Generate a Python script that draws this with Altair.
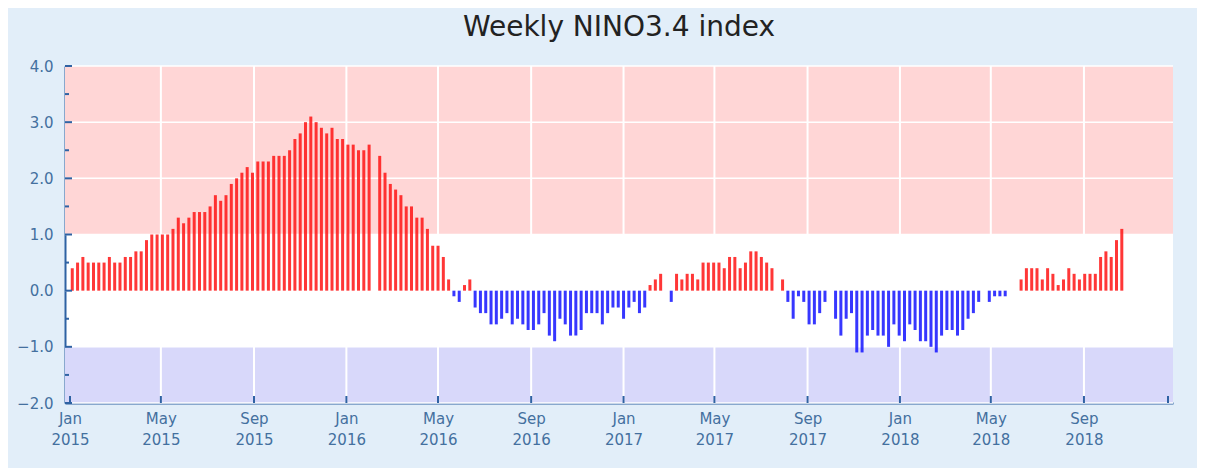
import altair as alt
import pandas as pd

# ---- data ----
start_week = "2015-01-04"
nino34 = [
    0.4, 0.5, 0.6, 0.5, 0.5, 0.5, 0.5, 0.6, 0.5, 0.5, 0.6, 0.6, 0.7, 0.7, 0.9, 1.0,
    1.0, 1.0, 1.0, 1.1, 1.3, 1.2, 1.3, 1.4, 1.4, 1.4, 1.5, 1.7, 1.6, 1.7, 1.9, 2.0,
    2.1, 2.2, 2.1, 2.3, 2.3,
    2.3, 2.4, 2.4, 2.4, 2.5, 2.7, 2.8, 3.0, 3.1, 3.0, 2.9, 2.8, 2.9, 2.7, 2.7, 2.6,
    2.6, 2.5, 2.5, 2.6,
    None,
    2.4, 2.1, 1.9, 1.8, 1.7, 1.5, 1.5, 1.3, 1.3, 1.1, 0.8, 0.8, 0.6, 0.2,
    -0.1, -0.2, 0.1, 0.2, -0.3, -0.4, -0.4, -0.6, -0.6, -0.5, -0.4, -0.6, -0.5, -0.6,
    -0.7, -0.7, -0.6, -0.4, -0.8, -0.9, -0.5, -0.6, -0.8, -0.8, -0.7, -0.4, -0.4, -0.4,
    -0.6, -0.4, -0.3, -0.3, -0.5, -0.3, -0.2, -0.4, -0.3,
    0.1, 0.2, 0.3, 0.0, -0.2, 0.3, 0.2, 0.3, 0.3, 0.2, 0.5, 0.5, 0.5, 0.5, 0.4, 0.6,
    0.6, 0.4, 0.5, 0.7, 0.7, 0.6, 0.5, 0.4, 0.0, 0.2,
    -0.2, -0.5, -0.1, -0.2, -0.6, -0.6, -0.4, -0.2, 0.0, -0.5, -0.8, -0.5, -0.4, -1.1,
    -1.1, -0.8, -0.7, -0.8, -0.8, -1.0, -0.6, -0.8, -0.9, -0.6, -0.7, -0.9, -0.9, -1.0,
    -1.1, -0.8, -0.7, -0.7, -0.8, -0.7, -0.5, -0.4, -0.2, 0.0, -0.2, -0.1, -0.1, -0.1,
    0.0, 0.0, 0.2, 0.4, 0.4, 0.4, 0.2, 0.4, 0.3, 0.1, 0.2, 0.4, 0.3, 0.2, 0.3, 0.3,
    0.3, 0.6, 0.7, 0.6, 0.9, 1.1,
]
x_tick_dates = ["2015-01-01", "2015-05-01", "2015-09-01", "2016-01-01", "2016-05-01",
                "2016-09-01", "2017-01-01", "2017-05-01", "2017-09-01", "2018-01-01",
                "2018-05-01", "2018-09-01"]
x_domain = ["2015-01-01", "2018-12-21"]
y_ticks = [-2.0, -1.0, 0.0, 1.0, 2.0, 3.0, 4.0]
y_minor_ticks = [-1.5, -0.5, 0.5, 1.5, 2.5, 3.5]
band_lo = [1.0, -2.0]
band_hi = [4.0, -1.0]
band_color = ["#ffd6d6", "#d8d8fa"]

# ---- style ----
W, H = 1108, 337
AXIS = "#2f62a3"
LABEL = "#44709f"
FONT = "DejaVu Sans"

dates = [d.strftime("%Y-%m-%d") for d in pd.date_range(start_week, periods=len(nino34), freq="7D")]
df = pd.DataFrame({"date": dates, "value": nino34}).dropna()
df["sign"] = ["pos" if v >= 0 else "neg" for v in df["value"]]

bands = pd.DataFrame({"lo": band_lo, "hi": band_hi, "c": band_color})
xt = pd.DataFrame({"date": x_tick_dates[1:]})
xt_end = pd.DataFrame({"date": x_tick_dates + [x_domain[1]]})
yt = pd.DataFrame({"value": y_ticks})
ymt = pd.DataFrame({"value": y_minor_ticks})

def dt(s):
    y, m, d = map(int, s.split("-"))
    return alt.DateTime(year=y, month=m, date=d, utc=True)

xscale = alt.Scale(type="utc", domain=[dt(s) for s in x_domain])
yscale = alt.Scale(domain=[-2, 4], nice=False)

x_axis = alt.Axis(values=[dt(s) for s in x_tick_dates],
                  labelExpr="[utcFormat(datum.value, '%b'), utcFormat(datum.value, '%Y')]",
                  ticks=False, grid=False, domainColor=AXIS, domainWidth=2,
                  labelColor=LABEL, labelFont=FONT, labelFontSize=15,
                  labelPadding=8, labelLineHeight=21, labelBaseline="top",
                  labelAlign="center", labelOverlap=False, labelFlush=False)
y_axis = alt.Axis(values=y_ticks, format=".1f", ticks=False, grid=False,
                  domainColor=AXIS, domainWidth=2, labelColor=LABEL,
                  labelFont=FONT, labelFontSize=15, labelPadding=12)

band_layer = alt.Chart(bands).mark_rect().encode(
    x=alt.value(0), x2=alt.value(W),
    y=alt.Y("lo:Q", scale=yscale, title=None, axis=y_axis), y2="hi:Q",
    color=alt.Color("c:N", scale=None, legend=None),
)

vgrid = alt.Chart(xt).mark_rule(color="white", strokeWidth=2).encode(
    x=alt.X("date:T", scale=xscale, title=None, axis=x_axis), y=alt.value(0), y2=alt.value(H)
)
hgrid = alt.Chart(yt).mark_rule(color="white", strokeWidth=1.5).encode(
    y=alt.Y("value:Q", scale=yscale, title=None), x=alt.value(0), x2=alt.value(W)
)

bars = alt.Chart(df).mark_bar(width=3, opacity=0.85).encode(
    x=alt.X("date:T", scale=xscale, title=None),
    y=alt.Y("value:Q", scale=yscale, title=None),
    y2=alt.datum(0),
    color=alt.Color("sign:N", scale=alt.Scale(domain=["pos", "neg"], range=["#ff1414", "#1414ff"]),
                    legend=None),
)

xticks = alt.Chart(xt_end).mark_rule(color=AXIS, strokeWidth=2).encode(
    x=alt.X("date:T", scale=xscale, title=None), y=alt.value(H), y2=alt.value(H - 7)
)
yticks = alt.Chart(yt).mark_rule(color=AXIS, strokeWidth=2).encode(
    y=alt.Y("value:Q", scale=yscale, title=None), x=alt.value(0), x2=alt.value(7)
)
yminor = alt.Chart(ymt).mark_rule(color=AXIS, strokeWidth=2).encode(
    y=alt.Y("value:Q", scale=yscale, title=None), x=alt.value(0), x2=alt.value(4)
)

chart = alt.layer(band_layer, vgrid, hgrid, bars, xticks, yticks, yminor).properties(
    width=W, height=H,
    title=alt.TitleParams("Weekly NINO3.4 index", font=FONT, fontSize=28, fontWeight="normal",
                          color="#222222", anchor="middle", frame="group", offset=17),
    autosize=alt.AutoSizeParams(type="none"),
    padding={"left": 57, "top": 58, "right": 24, "bottom": 65},
).configure(background="#e2eef9").configure_view(stroke=None, fill="white")

chart.save("out.html", embed_options={"renderer": "svg", "actions": False})
